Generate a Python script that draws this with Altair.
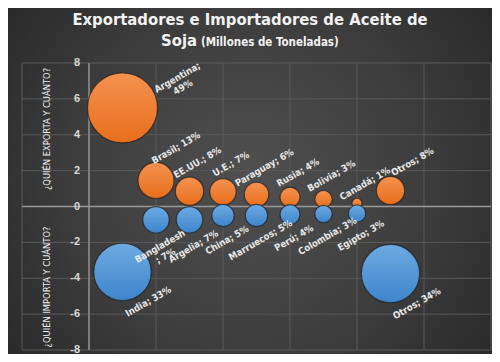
import math
import altair as alt
import pandas as pd

# ---------------- data ----------------
x_vals = [0.5, 1, 1.5, 2, 2.5, 3, 3.5, 4, 4.5]

exp_names = ["Argentina", "Brasil", "EE.UU.", "U.E.", "Paraguay", "Rusia", "Bolivia", "Canadá", "Otros"]
exp_pct = [49, 13, 8, 7, 6, 4, 3, 1, 8]
exp_vol = [5.5, 1.45, 0.85, 0.82, 0.67, 0.52, 0.41, 0.18, 0.89]
exp_labels = ["Argentina;\n49%", "Brasil; 13%", "EE.UU.; 8%", "U.E.; 7%", "Paraguay; 6%",
              "Rusia; 4%", "Bolivia; 3%", "Canadá; 1%", "Otros; 8%"]

imp_names = ["India", "Bangladesh", "Argelia", "China", "Marruecos", "Perú", "Colombia", "Egipto", "Otros"]
imp_pct = [33, 7, 7, 5, 5, 4, 3, 3, 34]
imp_vol = [-3.65, -0.74, -0.74, -0.5, -0.5, -0.45, -0.42, -0.39, -3.74]
imp_labels = ["India; 33%", "Bangladesh\n; 7%", "Argelia; 7%", "China; 5%", "Marruecos; 5%",
              "Perú; 4%", "Colombia; 3%", "Egipto; 3%", "Otros; 34%"]

y_ticks = [8, 6, 4, 2, 0, -2, -4, -6, -8]
x_grid = [-1, 0, 1, 2, 3, 4, 5, 6]

title_1 = "Exportadores e Importadores de Aceite de"
title_2a = "Soja"
title_2b = "(Millones de Toneladas)"
ytitle_exp = "¿QUIÉN EXPORTA Y CUÁNTO?"
ytitle_imp = "¿QUIÉN IMPORTA Y CUÁNTO?"

# ---------------- layout ----------------
W, H = 469, 287
X_DOM, Y_DOM = [-1, 6], [-8, 8]
PX_X = W / (X_DOM[1] - X_DOM[0])
PX_Y = H / (Y_DOM[1] - Y_DOM[0])
SIZE_MAX = 49
SIZE_RANGE = 4900  # symbol size for the largest bubble
FONT_N = "DejaVu Sans Condensed, Liberation Sans, sans-serif"
# hand-placed label nudges (pixels, to the right) seen in the reference
LABEL_NUDGE_EXP = {"Brasil": 12, "Otros": 14}


def radius(p):
    return math.sqrt(p * SIZE_RANGE / SIZE_MAX) / 2


def build(names, pct, vol, labels, side):
    rows = []
    for n, p, v, l, x in zip(names, pct, vol, labels, x_vals):
        r = radius(p)
        if p >= 30:
            if side > 0:
                lx, ly = x + 1.57 * r / PX_X, v + 0.86 * r / PX_Y
            else:
                lx, ly = x + 0.9 * r / PX_X, v - 1.03 * r / PX_Y
        else:
            if side > 0:
                nud = LABEL_NUDGE_EXP.get(n, 0)
                lx, ly = x + (8 + nud) / PX_X, v + (r + 14.5) / PX_Y
            else:
                lx, ly = x + 4 / PX_X, v - (r + 13.5) / PX_Y
        rows.append(dict(name=n, pct=p, vol=v, x=x, label=l, lx=lx, ly=ly))
    return pd.DataFrame(rows)


exp_df = build(exp_names, exp_pct, exp_vol, exp_labels, 1)
imp_df = build(imp_names, imp_pct, imp_vol, imp_labels, -1)

xs = alt.Scale(domain=X_DOM, nice=False, zero=False)
ys = alt.Scale(domain=Y_DOM, nice=False, zero=False)
ss = alt.Scale(domain=[0, SIZE_MAX], range=[0, SIZE_RANGE])

one = pd.DataFrame({"a": [0]})

bg = alt.Chart(one).mark_rect(
    fill=alt.RadialGradient(
        gradient="radial",
        stops=[alt.GradientStop(color="#505050", offset=0),
               alt.GradientStop(color="#3b3b3b", offset=0.5),
               alt.GradientStop(color="#1d1d1d", offset=1)],
        x1=0.5, y1=0.5, x2=0.5, y2=0.5, r1=0, r2=0.78),
    clip=False,
).encode(x=alt.value(-14), x2=alt.value(W + 1), y=alt.value(-55), y2=alt.value(H + 4))

gx = alt.Chart(pd.DataFrame({"g": x_grid})).mark_rule(color="#5a5a5a", strokeWidth=1).encode(
    x=alt.X("g:Q", scale=xs, axis=None))
gy = alt.Chart(pd.DataFrame({"g": y_ticks})).mark_rule(color="#5a5a5a", strokeWidth=1).encode(
    y=alt.Y("g:Q", scale=ys, axis=None))
zx = alt.Chart(one).mark_rule(color="#8f8f8f", strokeWidth=1.5).encode(
    x=alt.X("a:Q", scale=xs, axis=None))
zy = alt.Chart(one).mark_rule(color="#9a9a9a", strokeWidth=1.5).encode(
    y=alt.Y("a:Q", scale=ys, axis=None))


def bubbles(df, top, bottom):
    return alt.Chart(df).mark_circle(
        opacity=1,
        fill=alt.LinearGradient(gradient="linear",
                                stops=[alt.GradientStop(color=top, offset=0),
                                       alt.GradientStop(color=bottom, offset=1)],
                                x1=0, x2=0, y1=0, y2=1),
        stroke="#1e1e1e", strokeWidth=1.2, strokeOpacity=0.7,
    ).encode(
        x=alt.X("x:Q", scale=xs, axis=None),
        y=alt.Y("vol:Q", scale=ys, axis=None),
        size=alt.Size("pct:Q", scale=ss, legend=None),
    )


def labels(df):
    return alt.Chart(df).mark_text(
        angle=330, align="center", baseline="middle", lineBreak="\n",
        font=FONT_N, fontSize=9.5, fontWeight="bold",
        color="#e8e8e8", lineHeight=11,
    ).encode(
        x=alt.X("lx:Q", scale=xs, axis=None),
        y=alt.Y("ly:Q", scale=ys, axis=None),
        text="label:N",
    )


ticks = alt.Chart(pd.DataFrame({"t": y_ticks, "z": [0] * len(y_ticks)})).mark_text(
    align="right", baseline="middle", dx=-9, font="Liberation Sans", fontSize=11,
    fontWeight="bold", color="#d9d9d9",
).encode(
    x=alt.X("z:Q", scale=xs, axis=None),
    y=alt.Y("t:Q", scale=ys, axis=None),
    text="t:N",
)


def txt(s, x, y, size, align="center", angle=0, weight="bold"):
    return alt.Chart(one).mark_text(
        text=s, align=align, baseline="alphabetic" if angle == 0 else "middle",
        angle=angle, font=FONT_N, fontSize=size,
        fontWeight=weight, color="#f2f2f2",
    ).encode(x=alt.value(x), y=alt.value(y))


t1 = txt(title_1, 228, -38, 16.5)
t2a = txt(title_2a, 175, -17, 16.5, align="right")
t2b = txt(title_2b, 179, -17, 11.5, align="left")
ya = txt(ytitle_exp, 25, 66, 9.3, angle=270, weight="normal")
yb = txt(ytitle_imp, 25, 224, 9.3, angle=270, weight="normal")

chart = alt.layer(
    bg, gx, gy, zx, zy,
    bubbles(exp_df, "#f4924f", "#e86e1c"),
    bubbles(imp_df, "#6eaae2", "#3d85cc"),
    labels(exp_df), labels(imp_df),
    ticks, t1, t2a, t2b, ya, yb,
).properties(
    width=W, height=H,
    padding={"left": 14, "top": 55, "right": 1, "bottom": 4},
    autosize=alt.AutoSizeParams(type="none"),
    background="#2a2a2a",
).configure_view(stroke=None)

chart.save("out.html", embed_options={"renderer": "svg", "actions": False})
